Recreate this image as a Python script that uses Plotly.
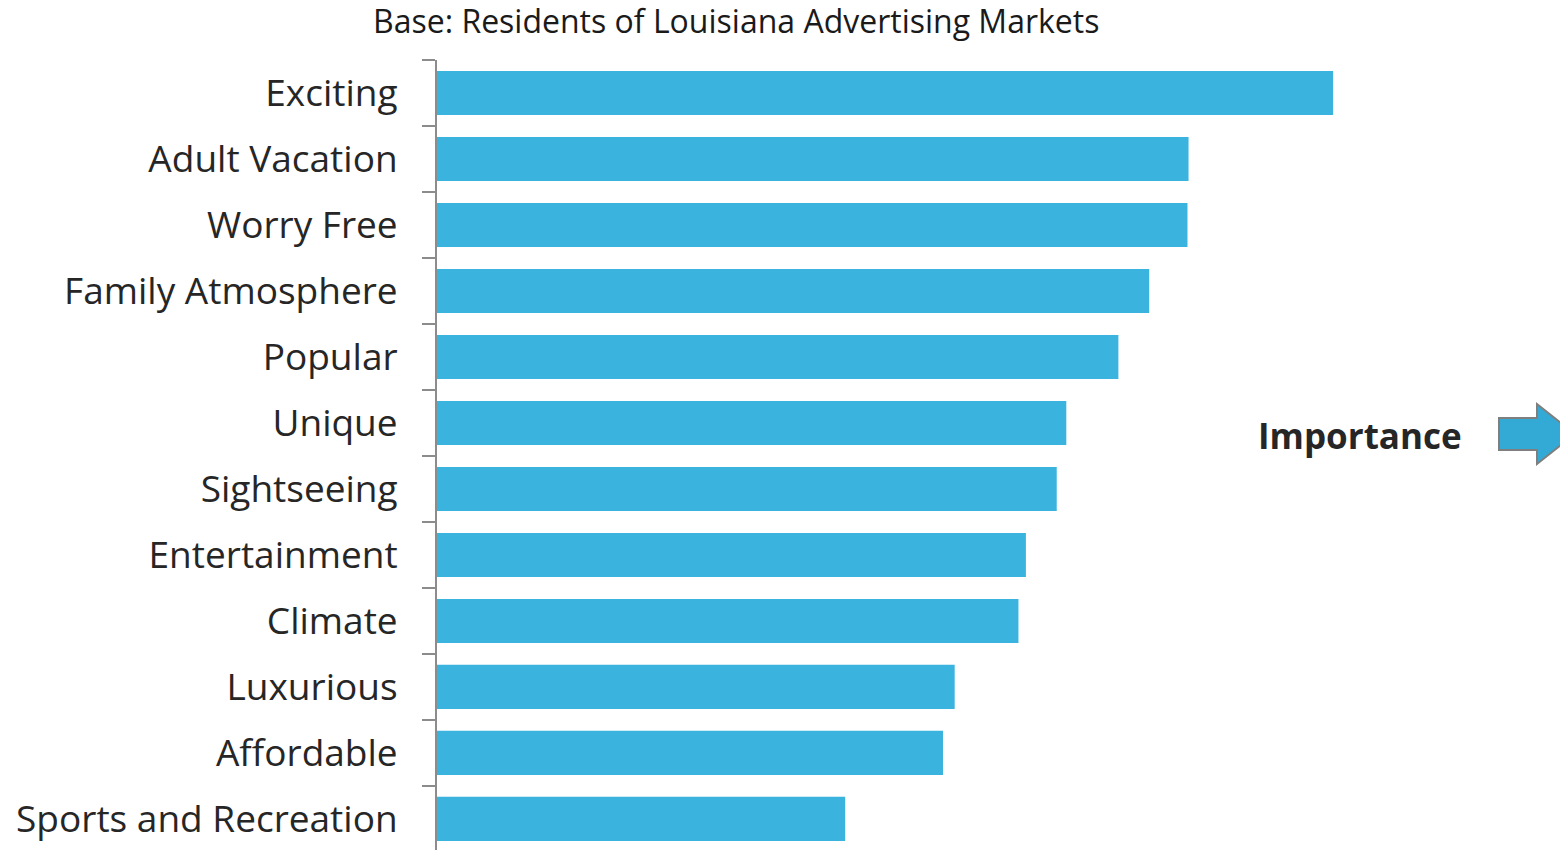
import plotly.graph_objects as go

# Attribute importance ratings (top to bottom)
categories = [
    "Exciting", "Adult Vacation", "Worry Free", "Family Atmosphere", "Popular",
    "Unique", "Sightseeing", "Entertainment", "Climate", "Luxurious",
    "Affordable", "Sports and Recreation",
]
importance = [84.3, 70.7, 70.6, 67.0, 64.1, 59.2, 58.3, 55.4, 54.7, 48.7, 47.6, 38.4]

W, H = 1560, 850
L, R, T, B = 437, 60, 60, 0
pw, ph = W - L - R, H - T - B


def px(x):
    return (x - L) / pw


def py(y):
    return (H - B - y) / ph


fig = go.Figure(go.Bar(
    x=importance,
    y=categories,
    orientation="h",
    marker=dict(color="#3AB3DF", line=dict(width=0)),
    width=0.67,
    hoverinfo="skip",
))

fig.update_yaxes(
    range=[11.47, -0.5],
    tickson="boundaries",
    ticks="outside",
    ticklen=13,
    tickcolor="#8c8c8c",
    tickwidth=2,
    showline=True,
    linecolor="#8c8c8c",
    linewidth=2,
    showgrid=False,
    ticklabelstandoff=30,
    tickfont=dict(family="Open Sans", size=37, color="#262626"),
)
fig.update_xaxes(range=[0, 100], visible=False, showgrid=False)

# Arrow pointing right, partly running off the edge
ax = [1499, 1537, 1537, 1575, 1537, 1537, 1499]
ay = [418, 418, 404, 434, 464, 450, 450]
path = "M " + " L ".join(f"{px(a):.5f},{py(b):.5f}" for a, b in zip(ax, ay)) + " Z"

fig.update_layout(
    width=W, height=H,
    margin=dict(l=L, r=R, t=T, b=B),
    plot_bgcolor="white", paper_bgcolor="white",
    showlegend=False,
    bargap=0.33,
    annotations=[
        dict(text="Base: Residents of Louisiana Advertising Markets",
             x=px(736), y=py(21), xref="paper", yref="paper",
             xanchor="center", yanchor="middle", showarrow=False,
             font=dict(family="Open Sans", size=32, color="#1a1a1a")),
        dict(text="<b>Importance</b>",
             x=px(1360), y=py(435), xref="paper", yref="paper",
             xanchor="center", yanchor="middle", showarrow=False,
             font=dict(family="Open Sans", size=35, color="#262626")),
    ],
    shapes=[dict(type="path", path=path, xref="paper", yref="paper",
                 fillcolor="#33A9D6", line=dict(color="#7f7f7f", width=2))],
)

fig.write_html("out.html")
